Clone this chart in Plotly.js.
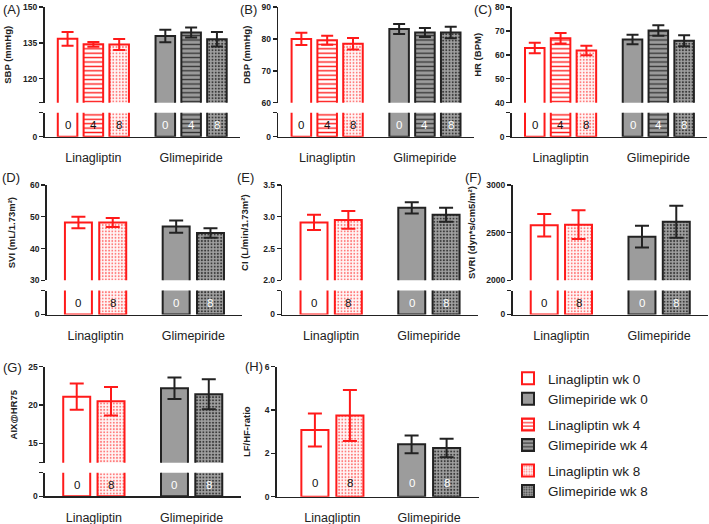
<!DOCTYPE html>
<html><head><meta charset="utf-8">
<script src="https://cdn.plot.ly/plotly-3.0.1.min.js"></script>
<style>html,body{margin:0;padding:0;background:#fff}#chart{width:709px;height:524px}</style>
</head><body><div id="chart"></div>
<script>
// ---------------- data ----------------
const groups = ['Linagliptin', 'Glimepiride'];
const weeks3 = ['0', '4', '8'];
const weeks2 = ['0', '8'];

const sbpLin = [136.7, 134.4, 134.3], sbpLinErr = [2.9, 1.0, 2.3];
const sbpGli = [137.9, 139.3, 136.5], sbpGliErr = [2.6, 2.1, 3.0];
const dbpLin = [80.0, 79.6, 78.5], dbpLinErr = [1.9, 1.4, 1.8];
const dbpGli = [83.1, 82.0, 82.0], dbpGliErr = [1.6, 1.4, 1.8];
const hrLin = [62.9, 66.9, 61.8], hrLinErr = [2.2, 2.2, 2.0];
const hrGli = [66.4, 70.2, 65.9], hrGliErr = [2.0, 2.2, 2.3];
const sviLin = [48.2, 48.2], sviLinErr = [1.8, 1.4];
const sviGli = [46.9, 44.9], sviGliErr = [1.9, 1.5];
const ciLin = [2.91, 2.95], ciLinErr = [0.12, 0.14];
const ciGli = [3.14, 3.03], ciGliErr = [0.09, 0.11];
const svriLin = [2577, 2584], svriLinErr = [118, 150];
const svriGli = [2458, 2615], svriGliErr = [115, 168];
const aixLin = [21.1, 20.5], aixLinErr = [1.7, 1.85];
const aixGli = [22.2, 21.4], aixGliErr = [1.4, 1.95];
const lfhfLin = [3.08, 3.75], lfhfLinErr = [0.76, 1.18];
const lfhfGli = [2.42, 2.25], lfhfGliErr = [0.41, 0.43];

// labelled ticks, plus the unlabelled end tick of each axis segment
const sbpTicks = [120, 135, 150], sbpTickText = ['120', '135', '150'], sbpEnd = [110];
const dbpTicks = [60, 70, 80, 90], dbpTickText = ['60', '70', '80', '90'], dbpEnd = [];
const hrTicks = [40, 50, 60, 70, 80], hrTickText = ['40', '50', '60', '70', '80'], hrEnd = [];
const sviTicks = [30, 40, 50, 60], sviTickText = ['30', '40', '50', '60'], sviEnd = [];
const ciTicks = [2.0, 2.5, 3.0, 3.5], ciTickText = ['2.0', '2.5', '3.0', '3.5'], ciEnd = [];
const svriTicks = [2000, 2500, 3000], svriTickText = ['2000', '2500', '3000'], svriEnd = [];
const aixTicks = [15, 20, 25], aixTickText = ['15', '20', '25'], aixEnd = [12.5];
const lfhfTicks = [0, 2, 4, 6], lfhfTickText = ['0', '2', '4', '6'], lfhfEnd = [];

// ---------------- layout helpers ----------------
const W = 709, H = 524;
const fx = px => px / W;
const fy = px => 1 - px / H;
const FONT = 'Liberation Sans, Arial, sans-serif';
const INK = '#222';
const RED = '#ff1a1a';
const GREY = '#9c9c9c';

const panels = [
  {tag:'(A)', tagPos:[1, 9], title:'SBP (mmHg)', lin:sbpLin, linErr:sbpLinErr, gli:sbpGli, gliErr:sbpGliErr, weeks:weeks3, range:[110,150], tv:sbpTicks, tt:sbpTickText, te:sbpEnd, xdom:[44.5,240], xr:[-0.5,1.5], upper:[7,102.7], lower:[112.7,136.7], pitch:0.264, bw:0.2, cap:6, standoff:9},
  {tag:'(B)', tagPos:[238, 9], title:'DBP (mmHg)', lin:dbpLin, linErr:dbpLinErr, gli:dbpGli, gliErr:dbpGliErr, weeks:weeks3, range:[60,90], tv:dbpTicks, tt:dbpTickText, te:dbpEnd, xdom:[278.3,473.8], xr:[-0.5,1.5], upper:[7,102.7], lower:[112.7,136.7], pitch:0.264, bw:0.2, cap:6, standoff:9},
  {tag:'(C)', tagPos:[472, 9], title:'HR (BPM)', lin:hrLin, linErr:hrLinErr, gli:hrGli, gliErr:hrGliErr, weeks:weeks3, range:[40,80], tv:hrTicks, tt:hrTickText, te:hrEnd, xdom:[511.7,707.2], xr:[-0.5,1.5], upper:[7,102.7], lower:[112.7,136.7], pitch:0.264, bw:0.2, cap:6, standoff:11},
  {tag:'(D)', tagPos:[0, 177], title:'SVI (mL/1.73m²)', lin:sviLin, linErr:sviLinErr, gli:sviGli, gliErr:sviGliErr, weeks:weeks2, range:[30,60], tv:sviTicks, tt:sviTickText, te:sviEnd, xdom:[46.7,242.2], xr:[-0.5,1.5], upper:[185,280.3], lower:[290.5,314.5], pitch:0.351, bw:0.276, cap:7, standoff:12},
  {tag:'(E)', tagPos:[235, 177], title:'CI (L/min/1.73m²)', lin:ciLin, linErr:ciLinErr, gli:ciGli, gliErr:ciGliErr, weeks:weeks2, range:[2.0,3.5], tv:ciTicks, tt:ciTickText, te:ciEnd, xdom:[282.3,477.8], xr:[-0.5,1.5], upper:[185,280.3], lower:[290.5,314.5], pitch:0.351, bw:0.276, cap:7, standoff:13},
  {tag:'(F)', tagPos:[463, 177], title:'SVRI (dyn*s/cm5/m²)', lin:svriLin, linErr:svriLinErr, gli:svriGli, gliErr:svriGliErr, weeks:weeks2, range:[2000,3000], tv:svriTicks, tt:svriTickText, te:svriEnd, xdom:[512.5,708], xr:[-0.5,1.5], upper:[185,280.3], lower:[290.5,314.5], pitch:0.351, bw:0.276, cap:7, standoff:9},
  {tag:'(G)', tagPos:[1, 367], title:'AIX@HR75', lin:aixLin, linErr:aixLinErr, gli:aixGli, gliErr:aixGliErr, weeks:weeks2, range:[12.5,25], tv:aixTicks, tt:aixTickText, te:aixEnd, xdom:[45,240.5], xr:[-0.5,1.5], upper:[366.7,462.7], lower:[472.7,496.3], pitch:0.351, bw:0.276, cap:7, standoff:9},
  {tag:'(H)', tagPos:[243, 366], title:'LF/HF-ratio', lin:lfhfLin, linErr:lfhfLinErr, gli:lfhfGli, gliErr:lfhfGliErr, weeks:weeks2, range:[0,6], tv:lfhfTicks, tt:lfhfTickText, te:lfhfEnd, xdom:[276.7,479], xr:[-0.576,1.516], upper:[366.7,496.7], lower:null, pitch:0.362, bw:0.28, cap:7, standoff:12, labelY:0.103}
];

// styles per drug / week
const styles = {
  Linagliptin: {
    line: RED, text: '#111',
    '0': {color:'#ffffff'},
    '4': {color:'#ffffff', pattern:{shape:'-', fgcolor:RED, bgcolor:'#ffffff', size:4.4, solidity:0.32}},
    '8': {color:'#ffffff', pattern:{shape:'.', fgcolor:'#ff7a7a', bgcolor:'#fff6f6', size:3.2, solidity:0.28}}
  },
  Glimepiride: {
    line: INK, text: '#ffffff',
    '0': {color:GREY},
    '4': {color:GREY, pattern:{shape:'-', fgcolor:'#333333', bgcolor:GREY, size:4.4, solidity:0.3}},
    '8': {color:GREY, pattern:{shape:'.', fgcolor:'#3a3a3a', bgcolor:'#a0a0a0', size:3.2, solidity:0.32}}
  }
};

const ref = (l, n) => l + (n === 1 ? '' : n);
const key = (l, n) => l + 'axis' + (n === 1 ? '' : n);

const traces = [];
const annotations = [];
const layout = {
  width: W, height: H,
  margin: {l:0, r:0, t:0, b:0},
  paper_bgcolor: '#fff', plot_bgcolor: 'rgba(0,0,0,0)',
  font: {family: FONT, color: INK},
  barmode: 'overlay',
  showlegend: true,
  legend: {x: fx(508), y: fy(363), xanchor:'left', yanchor:'top', traceorder:'grouped', tracegroupgap: 5,
           font:{size:13.5, color:INK}, bgcolor:'rgba(0,0,0,0)', itemwidth:30},
  hovermode: false,
  annotations: annotations
};

panels.forEach((p, i) => {
  const xn = i + 1, xo = i + 9, yu = 2 * i + 1, yl = 2 * i + 2;
  const hasLower = !!p.lower;
  const bottomY = hasLower ? yl : yu;
  const n = p.weeks.length;
  const centers = [];
  groups.forEach((g, d) => p.weeks.forEach((w, k) => centers.push(d + (k - (n - 1) / 2) * p.pitch)));

  layout[key('x', xn)] = {
    domain: [fx(p.xdom[0]), fx(p.xdom[1])], anchor: ref('y', bottomY),
    type: 'category', categoryorder: 'array', categoryarray: groups, range: p.xr,
    showline: true, linecolor: INK, linewidth: 1.6, ticks: '', showgrid: false, zeroline: false,
    tickfont: {size: 12.5, color: INK}, ticklabelstandoff: 9, fixedrange: true
  };
  layout[key('x', xo)] = {
    overlaying: ref('x', xn), anchor: ref('y', bottomY), type: 'linear', range: p.xr,
    tickmode: 'array', tickvals: centers, ticks: 'outside', ticklen: 4, tickwidth: 1.4, tickcolor: INK,
    showticklabels: false, showline: false, showgrid: false, zeroline: false, fixedrange: true
  };
  const yCommon = {
    anchor: ref('x', xn), showline: true, linecolor: INK, linewidth: 1.6,
    ticks: 'outside', ticklen: 4, tickwidth: 1.4, tickcolor: INK,
    tickfont: {size: 8.5, weight: 'bold', color: INK}, showgrid: false, zeroline: false, fixedrange: true
  };
  const endTicks = vals => ({tickmode: 'array', tickvals: vals, ticks: 'outside', ticklen: 4, tickwidth: 1.4, tickcolor: INK, showgrid: false});
  layout[key('y', yu)] = Object.assign({}, yCommon, {
    domain: [fy(p.upper[1]), fy(p.upper[0])], range: p.range,
    tickmode: 'array', tickvals: p.tv, ticktext: p.tt,
    minor: endTicks(p.te),
    title: {text: p.title, font: {size: 9.5, weight: 'bold', color: INK}, standoff: p.standoff}
  });
  if (hasLower) {
    const lowTop = p.range[0];
    layout[key('y', yl)] = Object.assign({}, yCommon, {
      domain: [fy(p.lower[1]), fy(p.lower[0])], range: [0, lowTop],
      tickmode: 'array', tickvals: [0], ticktext: ['0'],
      minor: endTicks([lowTop])
    });
  }

  groups.forEach((g, d) => {
    const vals = d === 0 ? p.lin : p.gli;
    const errs = d === 0 ? p.linErr : p.gliErr;
    const st = styles[g];
    p.weeks.forEach((w, k) => {
      const c = (k - (n - 1) / 2) * p.pitch;
      const ws = st[w];
      const marker = {color: ws.color, line: {color: st.line, width: 2}};
      if (ws.pattern) marker.pattern = Object.assign({fillmode: 'replace'}, ws.pattern);
      const base = {
        type: 'bar', x: [g], y: [vals[k]], offset: c - p.bw / 2, width: p.bw,
        xaxis: ref('x', xn), marker: marker, name: g + ' wk ' + w, legendgroup: 'wk' + w,
        hoverinfo: 'skip', cliponaxis: true
      };
      traces.push(Object.assign({}, base, {
        yaxis: ref('y', yu), showlegend: i === 0,
        error_y: {type: 'data', array: [errs[k]], visible: true, color: st.line, thickness: 2, width: p.cap}
      }));
      if (hasLower) {
        traces.push(Object.assign({}, base, {yaxis: ref('y', yl), showlegend: false}));
      }
      annotations.push({
        text: w, xref: ref('x', xn), x: d + c,
        yref: ref('y', hasLower ? yl : yu) + ' domain', y: hasLower ? 0.5 : p.labelY,
        showarrow: false, xanchor: 'center', yanchor: 'middle',
        font: {size: 11.5, color: st.text}
      });
    });
  });

  annotations.push({
    text: p.tag, xref: 'paper', yref: 'paper', x: fx(p.tagPos[0]), y: fy(p.tagPos[1]),
    xanchor: 'left', yanchor: 'middle', showarrow: false, font: {size: 13, color: INK}
  });
});

Plotly.newPlot('chart', traces, layout, {staticPlot: true, displayModeBar: false});
</script></body></html>
